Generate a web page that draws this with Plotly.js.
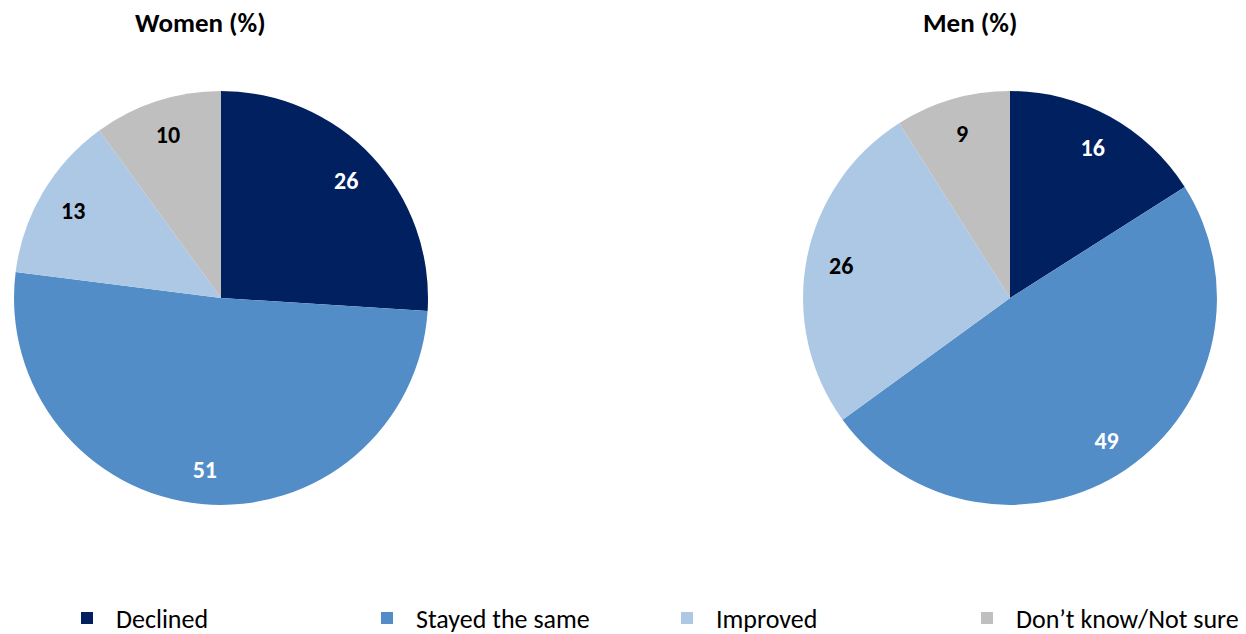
<!DOCTYPE html>
<html>
<head>
<meta charset="utf-8">
<script src="https://cdn.plot.ly/plotly-3.0.1.min.js"></script>
<style>html,body{margin:0;padding:0;background:#fff;}#chart{width:1246px;height:634px;}</style>
</head>
<body>
<div id="chart"></div>
<script>
const categories = ["Declined", "Stayed the same", "Improved", "Don\u2019t know/Not sure"];
const womenValues = [26, 51, 13, 10];
const menValues = [16, 49, 26, 9];
const chartTitles = ["Women (%)", "Men (%)"];
const sliceColors = ["#002060", "#538DC8", "#ADC8E4", "#BFBFBF"];
const labelColors = ["#FFFFFF", "#FFFFFF", "#000000", "#000000"];

const FONT = "Carlito, Lato, 'Liberation Sans', sans-serif";
const DOMAIN_Y = [0.2035, 0.8565];

// solid pie, no text
function pieTrace(values, domainX, showLegend) {
  return {
    type: "pie",
    labels: categories,
    values: values,
    sort: false,
    direction: "clockwise",
    rotation: 0,
    domain: {x: domainX, y: DOMAIN_Y},
    marker: {colors: sliceColors, line: {color: "#FFFFFF", width: 0}},
    textinfo: "none",
    hoverinfo: "label+value",
    showlegend: showLegend
  };
}

// transparent ring on top, used only to place the value labels further out
function labelTrace(values, domainX) {
  return {
    type: "pie",
    labels: categories,
    values: values,
    sort: false,
    direction: "clockwise",
    rotation: 0,
    hole: 0.66,
    domain: {x: domainX, y: DOMAIN_Y},
    marker: {colors: ["rgba(0,0,0,0)", "rgba(0,0,0,0)", "rgba(0,0,0,0)", "rgba(0,0,0,0)"], line: {width: 0}},
    texttemplate: "<b>%{value}</b>",
    textposition: "inside",
    insidetextorientation: "horizontal",
    insidetextfont: {family: FONT, size: 24, color: labelColors},
    hoverinfo: "skip",
    showlegend: false
  };
}

const womenX = [0.01124, 0.3435];
const menX = [0.6445, 0.9767];

const data = [
  pieTrace(womenValues, womenX, true),
  pieTrace(menValues, menX, false),
  labelTrace(womenValues, womenX),
  labelTrace(menValues, menX)
];

const layout = {
  width: 1246,
  height: 634,
  margin: {l: 0, r: 0, t: 0, b: 0, autoexpand: false},
  paper_bgcolor: "#FFFFFF",
  font: {family: FONT, size: 26, color: "#000000"},
  showlegend: true,
  legend: {
    orientation: "h",
    x: 58 / 1246, xanchor: "left",
    y: 1 - 618 / 634, yanchor: "middle",
    itemwidth: 48,
    entrywidth: 237, entrywidthmode: "pixels",
    traceorder: "normal",
    font: {family: FONT, size: 26, color: "#000000"}
  },
  annotations: [
    {text: "<b>" + chartTitles[0] + "</b>", x: 200/1246, y: 1 - 22/634, xref: "paper", yref: "paper",
     xanchor: "center", yanchor: "middle", showarrow: false, font: {family: FONT, size: 27, color: "#000"}},
    {text: "<b>" + chartTitles[1] + "</b>", x: 970/1246, y: 1 - 22/634, xref: "paper", yref: "paper",
     xanchor: "center", yanchor: "middle", showarrow: false, font: {family: FONT, size: 27, color: "#000"}}
  ]
};

Plotly.newPlot("chart", data, layout, {displayModeBar: false, staticPlot: true});
</script>
</body>
</html>
